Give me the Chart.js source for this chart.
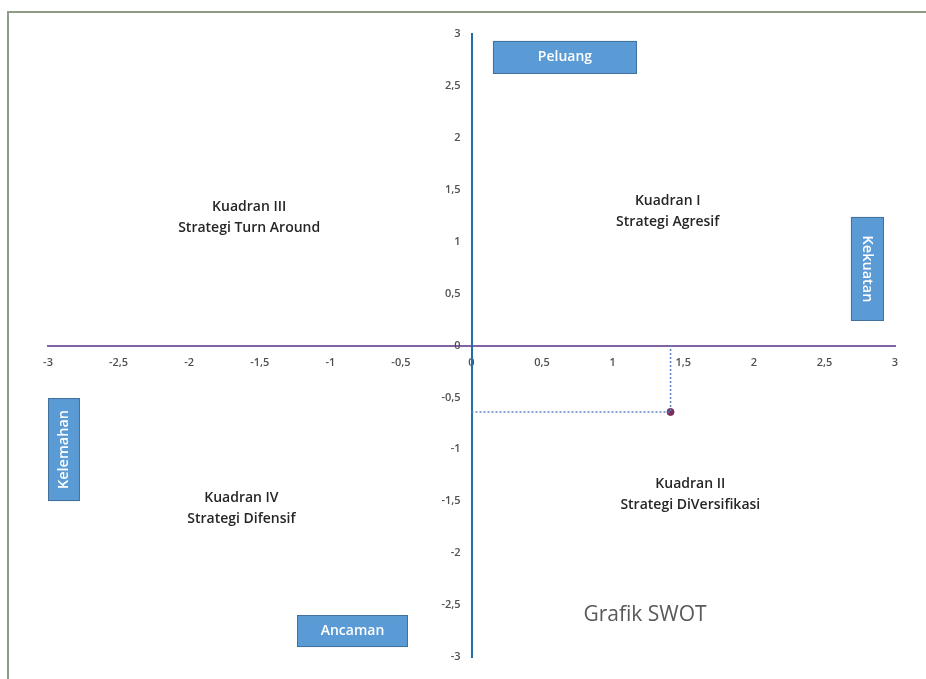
<!DOCTYPE html>
<html>
<head>
<meta charset="utf-8">
<script src="https://cdn.jsdelivr.net/npm/chart.js@4/dist/chart.umd.min.js"></script>
<style>
  html,body{margin:0;padding:0;background:#fff;overflow:hidden;}
  #wrap{position:relative;width:926px;height:679px;}
  #frame{position:absolute;left:7px;top:11px;width:940px;height:700px;border:2px solid #8e9c86;box-sizing:border-box;}
  canvas{position:absolute;left:0;top:0;}
</style>
</head>
<body>
<div id="wrap">
  <div id="frame"></div>
  <canvas id="c" width="926" height="679"></canvas>
</div>
<script>
// ---- data ----
const pointX = [1.41];
const pointY = [-0.64];
const tickValues = [-3, -2.5, -2, -1.5, -1, -0.5, 0, 0.5, 1, 1.5, 2, 2.5, 3];
const tickLabels = ['-3', '-2,5', '-2', '-1,5', '-1', '-0,5', '0', '0,5', '1', '1,5', '2', '2,5', '3'];
const quadrantTitles = ['Kuadran I', 'Kuadran II', 'Kuadran III', 'Kuadran IV'];
const quadrantStrategies = ['Strategi Agresif', 'Strategi DiVersifikasi', 'Strategi Turn Around', 'Strategi Difensif'];
const axisNames = ['Peluang', 'Kekuatan', 'Kelemahan', 'Ancaman'];
const chartTitle = 'Grafik SWOT';

// annotation placement (data coordinates)
const quadrantAnchors = [[1.39, 1.30], [1.55, -1.43], [-1.575, 1.238], [-1.63, -1.565]];
const boxes = [
  {x0: 0.152, x1: 1.172, y0: 2.933, y1: 2.615, rot: 0},
  {x0: 2.688, x1: 2.922, y0: 1.238, y1: 0.236, rot: 1},
  {x0: -3.0, x1: -2.774, y0: -0.506, y1: -1.498, rot: -1},
  {x0: -1.236, x1: -0.45, y0: -2.596, y1: -2.904, rot: 0}
];
const titleAnchor = [1.229, -2.6];

const fmt = v => {
  const i = tickValues.findIndex(t => Math.abs(t - v) < 1e-9);
  return i >= 0 ? tickLabels[i] : '';
};

const shiftYLabels = {
  id: 'shiftYLabels',
  beforeDraw(chart) {
    const s = chart.scales.y;
    const items = s.getLabelItems(chart.chartArea);
    if (!items._shifted) {
      items.forEach(it => { it.options.translation[0] -= 11; });
      items._shifted = true;
    }
  }
};

const annotPlugin = {
  id: 'annot',
  afterDatasetsDraw(chart) {
    const {ctx, scales: {x, y}} = chart;
    ctx.save();
    boxes.forEach((b, i) => {
      const px0 = x.getPixelForValue(b.x0), px1 = x.getPixelForValue(b.x1);
      const py0 = y.getPixelForValue(b.y0), py1 = y.getPixelForValue(b.y1);
      ctx.fillStyle = '#5b9bd5';
      ctx.fillRect(px0, py0, px1 - px0, py1 - py0);
      ctx.strokeStyle = '#41719c';
      ctx.lineWidth = 1;
      ctx.strokeRect(px0 + 0.5, py0 + 0.5, px1 - px0 - 1, py1 - py0 - 1);
      ctx.fillStyle = '#ffffff';
      ctx.font = (b.rot ? '600 14.5px' : '600 14px') + ' "Open Sans", sans-serif';
      ctx.textAlign = 'center';
      ctx.textBaseline = 'middle';
      ctx.save();
      ctx.translate((px0 + px1) / 2, (py0 + py1) / 2);
      if (b.rot) ctx.rotate(b.rot * Math.PI / 2);
      ctx.fillText(axisNames[i], 0, 0);
      ctx.restore();
    });
    ctx.fillStyle = '#262626';
    ctx.font = '600 14px "Open Sans", sans-serif';
    ctx.textAlign = 'center';
    ctx.textBaseline = 'middle';
    quadrantAnchors.forEach((a, i) => {
      const px = x.getPixelForValue(a[0]), py = y.getPixelForValue(a[1]);
      ctx.fillText(quadrantTitles[i], px, py - 10);
      ctx.fillText(quadrantStrategies[i], px, py + 11);
    });
    ctx.fillStyle = '#595959';
    ctx.font = '21px "Open Sans", sans-serif';
    ctx.fillText(chartTitle, x.getPixelForValue(titleAnchor[0]), y.getPixelForValue(titleAnchor[1]));
    ctx.restore();
  }
};

const tickFont = {size: 11, weight: '600', family: '"Open Sans", sans-serif'};

new Chart(document.getElementById('c'), {
  type: 'scatter',
  data: {
    datasets: [
      {
        label: 'guide',
        data: [{x: 0, y: pointY[0]}, {x: pointX[0], y: pointY[0]}, {x: pointX[0], y: 0}],
        showLine: true,
        borderColor: '#5b86c0',
        borderWidth: 1.5,
        borderDash: [2, 2],
        pointRadius: 0,
        fill: false
      },
      {
        label: 'posisi',
        data: pointX.map((v, i) => ({x: v, y: pointY[i]})),
        pointRadius: 3.5,
        pointBackgroundColor: '#7a2d5e',
        pointBorderColor: '#7a2d5e'
      }
    ]
  },
  options: {
    responsive: false,
    animation: false,
    layout: {padding: {left: 48, right: 31, top: 34, bottom: 22}},
    plugins: {legend: {display: false}, tooltip: {enabled: false}},
    scales: {
      x: {
        type: 'linear',
        min: -3, max: 3,
        position: {y: 0},
        afterBuildTicks: s => { s.ticks = tickValues.map(v => ({value: v})); },
        ticks: {callback: fmt, color: '#505050', font: tickFont, padding: 11, maxRotation: 0, autoSkip: false},
        grid: {display: true, color: 'rgba(0,0,0,0)', drawTicks: false},
        border: {display: true, color: '#8064a2', width: 2}
      },
      y: {
        type: 'linear',
        min: -3, max: 3,
        position: {x: 0},
        afterBuildTicks: s => { s.ticks = tickValues.map(v => ({value: v})); },
        ticks: {callback: fmt, color: '#505050', font: tickFont, padding: 10, autoSkip: false},
        grid: {display: true, color: 'rgba(0,0,0,0)', drawTicks: false},
        border: {display: true, color: '#1f6fa8', width: 2}
      }
    }
  },
  plugins: [shiftYLabels, annotPlugin]
});
</script>
</body>
</html>
